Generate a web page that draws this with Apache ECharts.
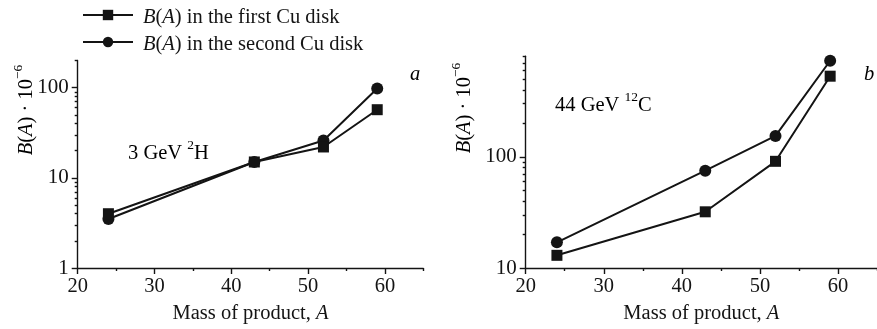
<!DOCTYPE html>
<html>
<head>
<meta charset="utf-8">
<script src="https://cdn.jsdelivr.net/npm/echarts@6/dist/echarts.min.js"></script>
<style>
  html, body { margin: 0; padding: 0; background: #fff; }
  #chart { width: 877px; height: 329px; }
</style>
</head>
<body>
<div id="chart"></div>
<script>
// Mass numbers of the measured residual nuclei
const massNumbers = [24, 43, 52, 59];

// Panel a: 3 GeV deuterons
const deuteronFirstDisk = [4.0, 15, 22, 57];
const deuteronSecondDisk = [3.5, 15, 26, 98];

// Panel b: 44 GeV carbon ions
const carbonFirstDisk = [13, 32, 91, 530];
const carbonSecondDisk = [17, 75, 154, 730];

// Axis ticks
const xMajorTicks = [20, 30, 40, 50, 60];
const xMinorTicks = [25, 35, 45, 55, 65];
const yMajorTicksA = [1, 10, 100];
const yMinorTicksA = [2, 3, 4, 5, 6, 7, 8, 9, 20, 30, 40, 50, 60, 70, 80, 90, 200];
const yMajorTicksB = [10, 100];
const yMinorTicksB = [20, 30, 40, 50, 60, 70, 80, 90, 200, 300, 400, 500, 600, 700, 800];

const FIRST_NAME = 'first';
const SECOND_NAME = 'second';

const FONT = 'Liberation Serif';
const INK = '#141414';

const richStyles = {
  r: { fontFamily: FONT, fontSize: 20.5, color: INK, lineHeight: 26, verticalAlign: 'bottom' },
  i: { fontFamily: FONT, fontSize: 20.5, color: INK, fontStyle: 'italic', lineHeight: 26, verticalAlign: 'bottom' },
  sup: { fontFamily: FONT, fontSize: 13.5, color: INK, lineHeight: 14, verticalAlign: 'top' }
};

const pairs = arr => massNumbers.map((m, k) => [m, arr[k]]);

function xAxes(gridIndex) {
  return [
    {
      type: 'value', gridIndex, position: 'bottom', offset: 0,
      min: 20, max: 65, interval: 5,
      splitLine: { show: false },
      axisLine: { lineStyle: { color: INK, width: 1.4 } },
      axisTick: { length: 6, customValues: xMajorTicks, lineStyle: { color: INK, width: 1.4 } },
      axisLabel: {
        customValues: xMajorTicks, margin: 8,
        fontFamily: FONT, fontSize: 20.5, color: INK
      },
      name: '{r|Mass of product, }{i|A}',
      nameLocation: 'middle', nameGap: 30,
      nameTextStyle: { rich: richStyles }
    },
    {
      type: 'value', gridIndex, position: 'bottom', offset: 0,
      min: 20, max: 65, interval: 5,
      splitLine: { show: false },
      axisLine: { show: false },
      axisLabel: { show: false },
      axisTick: { length: 3, customValues: xMinorTicks, lineStyle: { color: INK, width: 1.4 } }
    }
  ];
}

function yAxes(gridIndex, min, max, majors, minors) {
  return [
    {
      type: 'log', logBase: 10, gridIndex, position: 'left', offset: 0, min, max,
      splitLine: { show: false },
      axisLine: { show: true, lineStyle: { color: INK, width: 1.4 } },
      axisTick: { length: 6, customValues: majors, lineStyle: { color: INK, width: 1.4 } },
      axisLabel: {
        customValues: majors, margin: 9,
        fontFamily: FONT, fontSize: 21, color: INK
      }
    },
    {
      type: 'log', logBase: 10, gridIndex, position: 'left', offset: 0, min, max,
      splitLine: { show: false },
      axisLine: { show: false },
      axisLabel: { show: false },
      axisTick: { length: 3, customValues: minors, lineStyle: { color: INK, width: 1.4 } }
    }
  ];
}

function lineSeries(name, data, xi, yi, symbol, size) {
  return {
    type: 'line', name, data, xAxisIndex: xi, yAxisIndex: yi,
    symbol, symbolSize: size,
    lineStyle: { color: INK, width: 2 },
    itemStyle: { color: INK },
    emphasis: { disabled: true },
    animation: false, z: symbol === 'rect' ? 3 : 2
  };
}

const yNameText = '{i|B}{r|(}{i|A}{r|) · 10}{sup|−6}';

const option = {
  animation: false,
  backgroundColor: '#fff',
  grid: [
    { left: 77.7, right: 453.7, top: 60.55, bottom: 56.3 },
    { left: 525.7, right: -5.3, top: 56.3, bottom: 56.3 }
  ],
  legend: {
    orient: 'vertical', left: 82, top: 7, itemGap: 6, padding: 0,
    itemWidth: 50, itemHeight: 13,
    data: [FIRST_NAME, SECOND_NAME],
    formatter: n => n === FIRST_NAME
      ? '{i|B}{r|(}{i|A}{r|) in the first Cu disk}'
      : '{i|B}{r|(}{i|A}{r|) in the second Cu disk}',
    textStyle: { rich: richStyles, padding: [0, 0, 0, 5] },
    selectedMode: false
  },
  xAxis: [...xAxes(0), ...xAxes(1)],
  yAxis: [
    ...yAxes(0, 1, 200, yMajorTicksA, yMinorTicksA),
    ...yAxes(1, 10, 800, yMajorTicksB, yMinorTicksB)
  ],
  series: [
    lineSeries(SECOND_NAME, pairs(deuteronSecondDisk), 0, 0, 'circle', 12),
    lineSeries(FIRST_NAME, pairs(deuteronFirstDisk), 0, 0, 'rect', 11),
    lineSeries(SECOND_NAME, pairs(carbonSecondDisk), 2, 2, 'circle', 12),
    lineSeries(FIRST_NAME, pairs(carbonFirstDisk), 2, 2, 'rect', 11)
  ],
  graphic: [
    {
      type: 'text', x: 24, y: 110, rotation: Math.PI / 2,
      style: { text: yNameText, rich: richStyles, align: 'center', verticalAlign: 'middle' }
    },
    {
      type: 'text', x: 462, y: 108, rotation: Math.PI / 2,
      style: { text: yNameText, rich: richStyles, align: 'center', verticalAlign: 'middle' }
    },
    {
      type: 'text', x: 128, y: 151,
      style: { text: '{r|3 GeV }{sup|2}{r|H}', rich: richStyles, align: 'left', verticalAlign: 'middle' }
    },
    {
      type: 'text', x: 555, y: 103,
      style: { text: '{r|44 GeV }{sup|12}{r|C}', rich: richStyles, align: 'left', verticalAlign: 'middle' }
    },
    {
      type: 'text', x: 415, y: 72,
      style: { text: '{i|a}', rich: richStyles, align: 'center', verticalAlign: 'middle' }
    },
    {
      type: 'text', x: 869, y: 72,
      style: { text: '{i|b}', rich: richStyles, align: 'center', verticalAlign: 'middle' }
    }
  ]
};

const chart = echarts.init(document.getElementById('chart'), null, { renderer: 'canvas' });
chart.setOption(option);
</script>
</body>
</html>
